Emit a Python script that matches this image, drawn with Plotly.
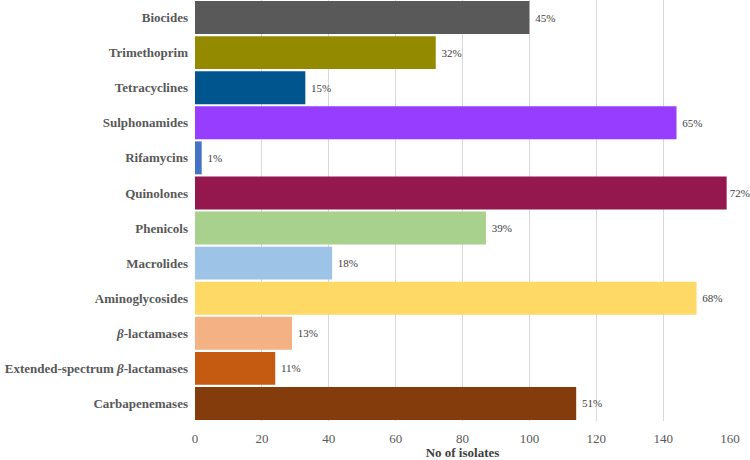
import plotly.graph_objects as go

categories = ["Biocides", "Trimethoprim", "Tetracyclines", "Sulphonamides", "Rifamycins",
              "Quinolones", "Phenicols", "Macrolides", "Aminoglycosides",
              "<i>β</i>-lactamases", "Extended-spectrum <i>β</i>-lactamases", "Carbapenemases"]
counts = [100, 72, 33, 144, 2, 159, 87, 41, 150, 29, 24, 114]
pct_labels = ["45%", "32%", "15%", "65%", "1%", "72%", "39%", "18%", "68%", "13%", "11%", "51%"]
colors = ["#595959", "#948A00", "#00558F", "#963DFF", "#4472C4", "#94174D",
          "#A9D18E", "#9DC3E6", "#FFD966", "#F4B183", "#C55A11", "#843C0C"]

x_max = 160
texts = [("" if v > x_max - 5 else " ") + t for v, t in zip(counts, pct_labels)]

fig = go.Figure(go.Bar(
    y=categories, x=counts, orientation="h",
    marker=dict(color=colors, line=dict(width=0)),
    text=texts, textposition="outside",
    textfont=dict(family="Liberation Serif", size=11, color="#404040"),
    cliponaxis=False,
))

fig.update_layout(
    width=750, height=460,
    margin=dict(l=195, r=20, t=0, b=39),
    paper_bgcolor="white", plot_bgcolor="white",
    bargap=0.06, showlegend=False,
    font=dict(family="Liberation Serif"),
)
fig.update_yaxes(autorange="reversed", automargin=False,
                 tickfont=dict(family="Liberation Serif", size=13, color="#595959", weight="bold"),
                 ticklabelstandoff=6, showgrid=False, showline=False)
fig.update_xaxes(range=[0, x_max], dtick=20, automargin=False,
                 showgrid=True, gridcolor="#D9D9D9", gridwidth=1,
                 zeroline=False, showline=False, ticklabelstandoff=8,
                 tickfont=dict(family="Liberation Serif", size=13, color="#595959"),
                 title=dict(text="No of isolates", standoff=1,
                            font=dict(family="Liberation Serif", size=13, color="#404040", weight="bold")))

fig.write_html("out.html", config={"displayModeBar": False},
               post_script="document.body.style.margin='0';document.body.style.overflow='hidden';")
